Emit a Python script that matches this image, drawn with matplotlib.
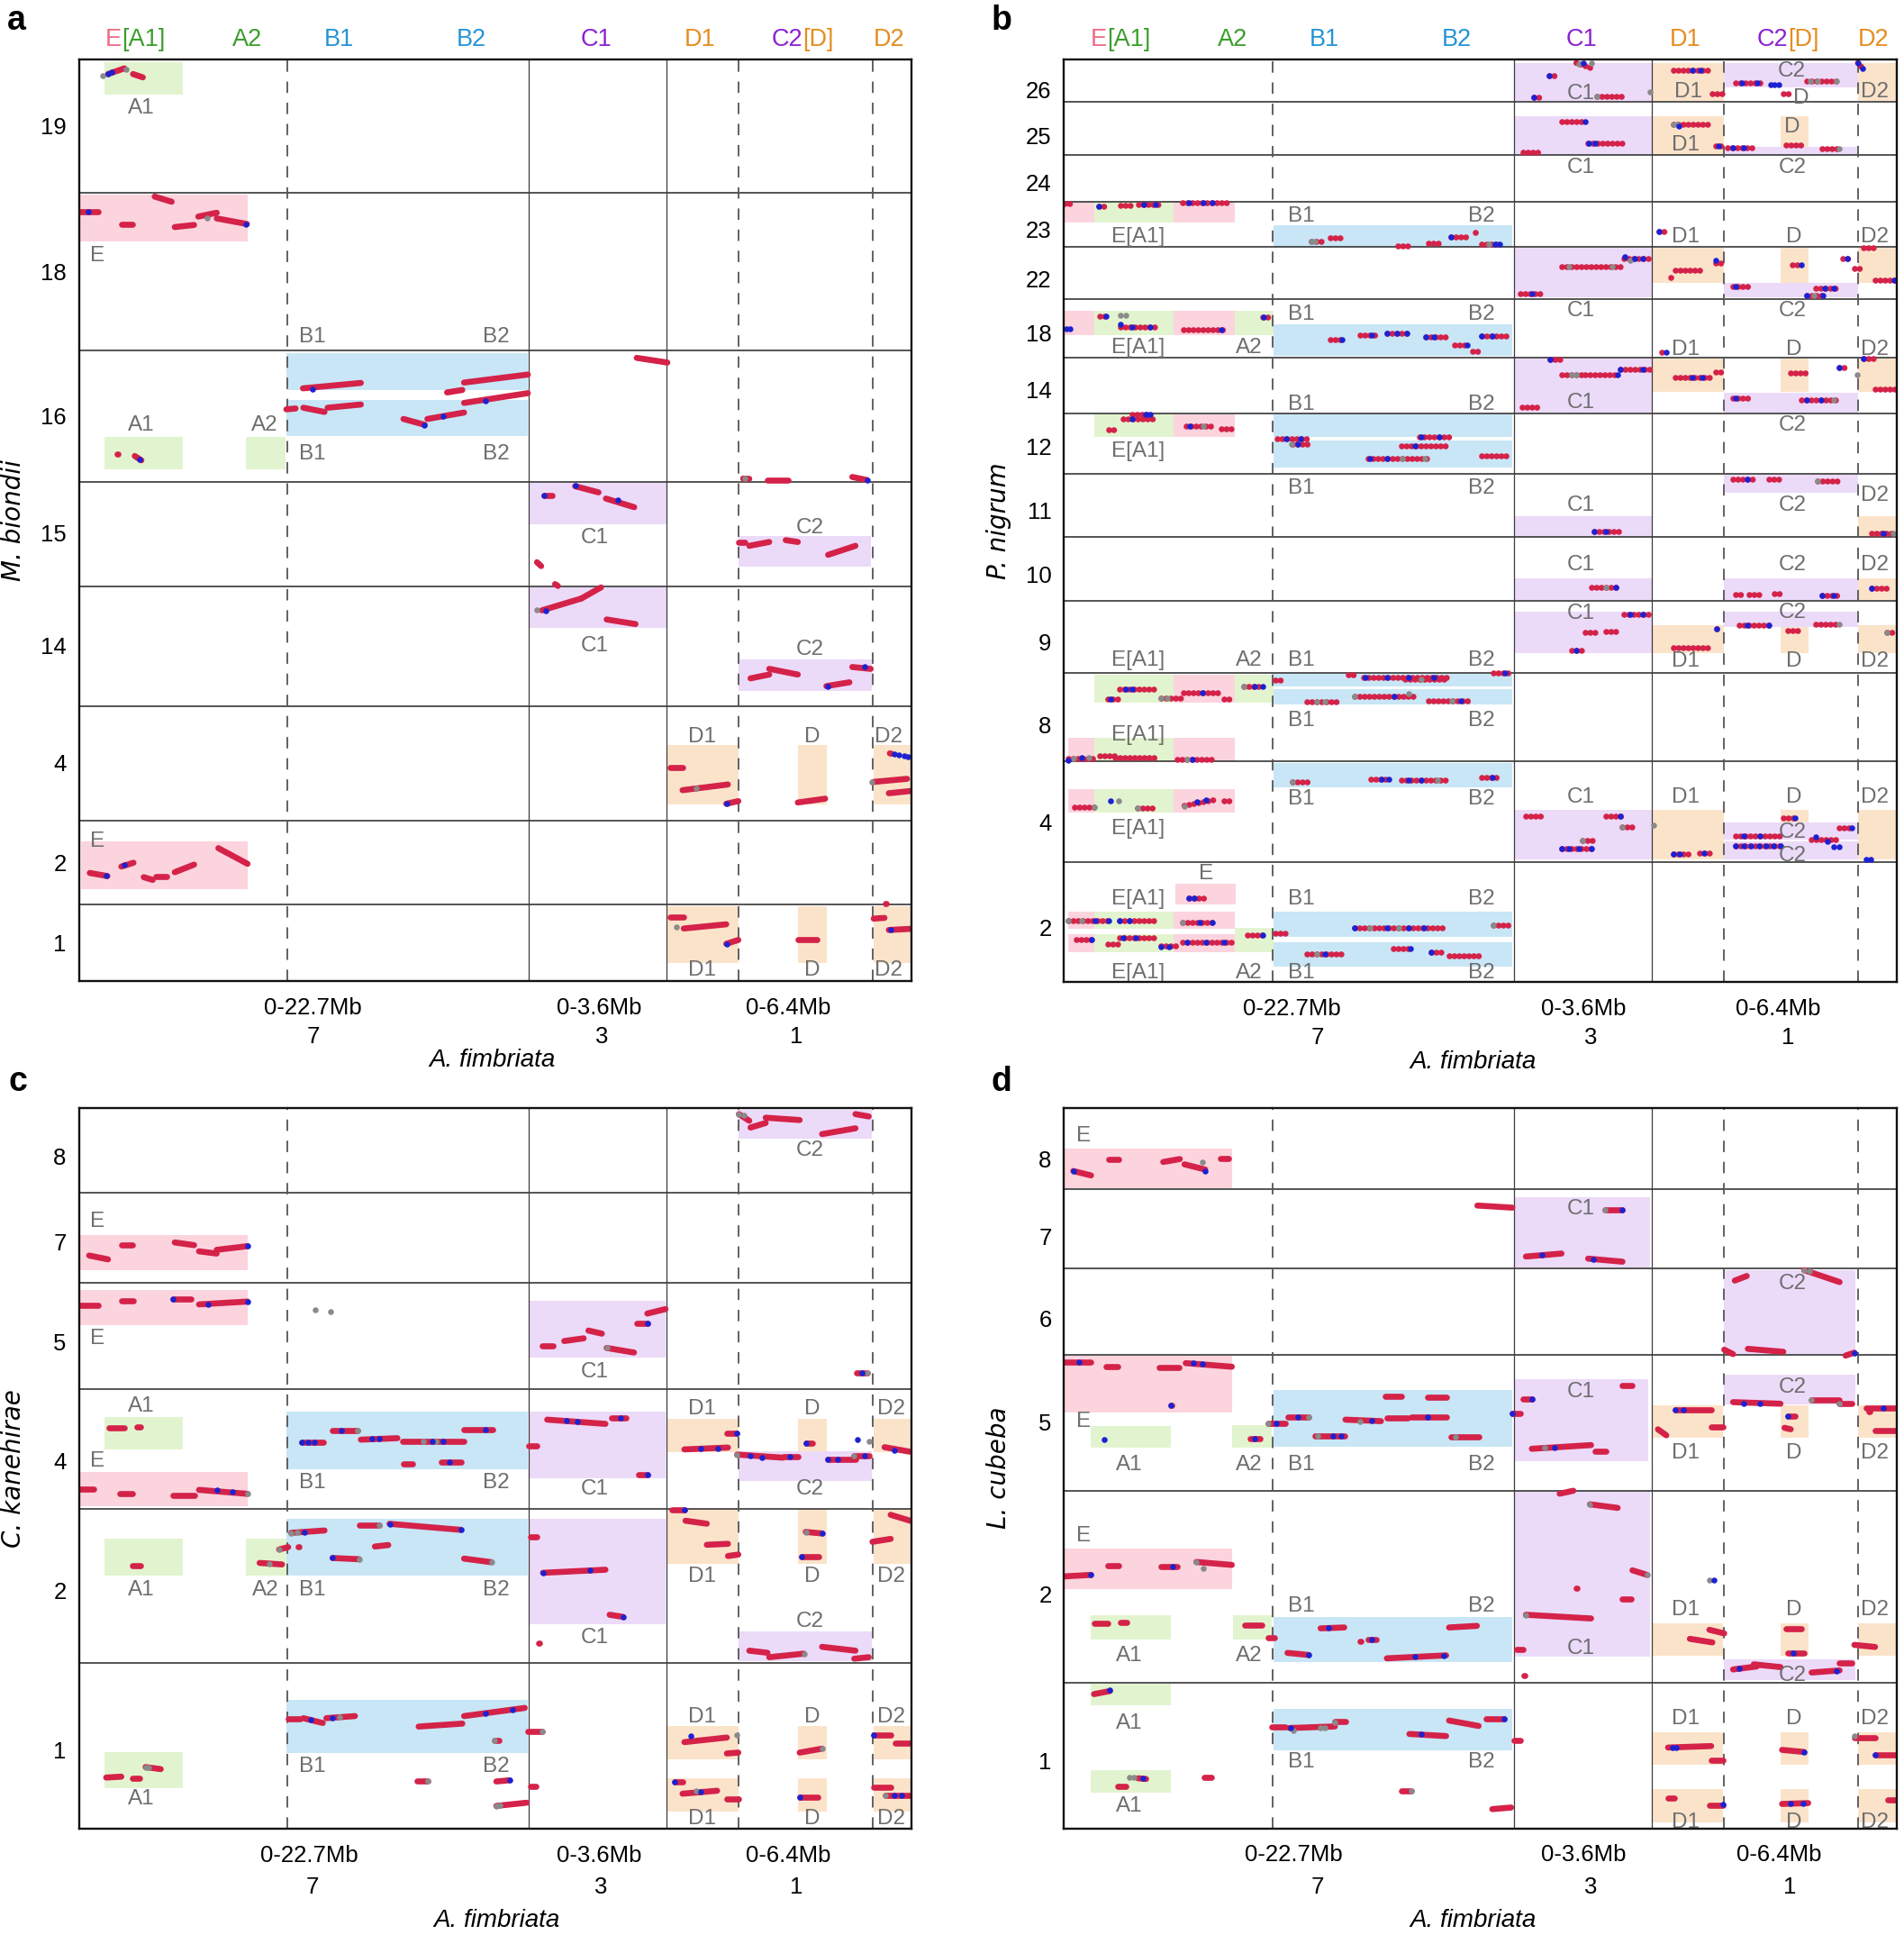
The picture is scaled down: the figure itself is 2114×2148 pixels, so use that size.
import matplotlib
matplotlib.use("Agg")
import matplotlib.pyplot as plt
import matplotlib.transforms as mtransforms
import matplotlib.font_manager as fm
from matplotlib.collections import LineCollection
from matplotlib.patches import Rectangle

# ---------------------------------------------------------------- shared data
XLIM = (0, 676)
CHROM_SOLID = [365.5, 477.5]
CHROM_DASHED = [169, 536, 644.5]
TOP_LABEL_X = [46, 136.5, 211.5, 318.5, 420, 504.5, 587.5, 657.5]
TOP_LABEL_PARTS = [[("E", "E"), ("[A1]", "A")], [("A2", "A")], [("B1", "B")], [("B2", "B")],
                   [("C1", "C")], [("D1", "D")], [("C2", "C"), ("[D]", "D")], [("D2", "D")]]
BOTTOM_RANGE = ["0-22.7Mb", "0-3.6Mb", "0-6.4Mb"]
BOTTOM_CHROM = ["7", "3", "1"]
XSPECIES = "A. fimbriata"

# ---------------------------------------------------------------- panel a : M. biondii
A_NAME = "M. biondii"
A_YLIM = (795, 48.5)
A_ROWS = [156, 284, 390.5, 475, 572, 665, 733]
A_TICKS = [102, 220, 337, 432, 523, 618, 699, 764]
A_TICKLABELS = ["19", "18", "16", "15", "14", "4", "2", "1"]
A_RANGE_X = [189.7, 422.7, 576.4]
A_CHROM_X = [190.7, 424.7, 582.3]
A_SPECIES_X = 336
A_BLOCKS = [
    (20.7, 84.8, 50.4, 76.5, "A"), (1, 137, 158, 196, "E"),
    (168.5, 364.6, 286, 316, "B"), (168.5, 364.6, 324, 353, "B"),
    (20.7, 84.8, 354, 380, "A"), (135.5, 167.5, 354, 380, "A"),
    (366, 477, 391, 425, "C"), (535.5, 643, 434, 459.5, "C"),
    (366, 477, 476, 508.7, "C"), (535.5, 644, 534.3, 560, "C"),
    (478, 535.5, 604, 652, "D"), (583.8, 607, 604, 652, "D"), (645.4, 676, 604, 652, "D"),
    (1.5, 137, 682, 720.7, "E"),
    (478, 535.5, 734, 780.7, "D"), (583.8, 607, 734, 780.7, "D"), (645.4, 676, 734, 780.7, "D"),
]
A_LABELS = [
    ("A1", 51, 87.5), ("E", 15, 207.6), ("B1", 189.7, 273), ("B2", 339, 273),
    ("A1", 51, 344.7), ("A2", 151, 344.7), ("B1", 189.7, 368), ("B2", 339, 368),
    ("C1", 418.8, 435.8), ("C2", 593.6, 427.5), ("C1", 418.8, 523.6), ("C2", 593.6, 526.6),
    ("D1", 506.4, 596.8), ("D", 595.4, 596.8), ("D2", 657.7, 596.8),
    ("E", 14.8, 682), ("D1", 506.4, 786), ("D", 595.4, 786), ("D2", 657.7, 786),
]
A_SEGS = [
    (23.7, 60, 37, 55.4), (44, 60, 52, 62.7),
    (1, 171.6, 16, 171.6), (34.5, 182, 43.4, 182), (61.6, 159.3, 75.4, 163.5),
    (77.9, 184, 93.6, 182.3), (97, 175.5, 112, 172.4), (112, 177, 136.5, 181.5),
    (182, 314.7, 229, 310.3), (299, 318, 311.4, 316), (312.8, 310, 364.6, 303.5),
    (168.5, 331.7, 176, 331), (182.3, 330.4, 199.5, 333.8), (202, 330.4, 229, 327.8),
    (263.6, 339.5, 280.8, 344.2), (283, 339.5, 312.8, 334.3), (312.8, 326.5, 364.6, 318.6),
    (453, 290, 477.9, 293.8), (31, 367.7, 31.5, 367.7), (45.4, 369.5, 50.8, 373),
    (162.6, 361, 163, 361), (539.4, 387.8, 544.4, 388), (559, 389, 576, 389), (628, 386.5, 640, 389),
    (377.9, 401.7, 384.3, 401.7), (396.6, 391, 397, 391), (403, 394, 422, 399), (428, 404, 451, 411),
    (536, 439.2, 541, 439.2), (544.4, 442.3, 560.6, 439.2), (574, 437.7, 583.8, 439.2),
    (608.4, 449.6, 630.6, 442.3), (372, 455.6, 375.4, 458.7), (386.7, 473.3, 389, 474.8),
    (376, 494.6, 408, 485), (408, 485, 424, 476), (428.6, 502, 452, 505.7),
    (545.4, 549.7, 560.6, 546.6), (560.6, 542, 583.8, 546.6), (607, 556, 625.7, 552.9), (628, 540.5, 643, 542),
    (368, 628.8, 368.5, 628.8), (480.3, 621.9, 490.2, 621.9), (490.2, 640.3, 527, 635.7),
    (525.7, 651.3, 535.5, 649.2), (583.8, 650.3, 606, 647.2), (645.4, 633.6, 672.5, 631.1),
    (657.7, 642.8, 675, 641), (658.5, 610.5, 660, 610.8),
    (8.9, 707.4, 23.2, 709.9), (34.5, 702.2, 44.4, 699.1), (52.7, 710.8, 60, 713),
    (62.6, 710, 71.5, 710), (77.9, 706.8, 93.6, 700.6), (113.3, 687.3, 137, 700),
    (368, 754.4, 368.5, 754.4), (480.3, 743.2, 491.2, 743.2), (491.2, 752.4, 525.7, 749),
    (525.7, 764.8, 535.5, 761.7), (583.8, 761.7, 599.5, 761.7), (645.4, 744.4, 654.2, 743.8),
    (655.2, 731.9, 655.5, 731.9), (657.7, 753.6, 675, 752.7),
]
A_BLUE = [(24, 60), (27, 58.5), (8, 171.6), (136, 181.5), (189.7, 315), (280.8, 344.2), (295.6, 337),
          (330, 325), (49.3, 372), (377.9, 401.7), (403, 393.5), (437.5, 405.5), (640.4, 389),
          (379.3, 494.6), (608.4, 556), (638, 540.5), (526, 651.3), (526, 764.8), (659, 753.6),
          (22.2, 709.9), (37, 701), (662, 611.2), (666, 612), (670, 612.8), (673, 613.2)]
A_GREY = [(19.7, 61.4), (38.5, 56), (104.5, 177), (541, 387.8), (372, 494), (644, 633.6),
          (485.3, 750.9), (501.5, 639)]

# ---------------------------------------------------------------- panel b : P. nigrum
B_NAME = "P. nigrum"
B_YLIM = (795.5, 48.5)
B_ROWS = [82.3, 125.4, 163.7, 200.3, 242, 290, 335, 384, 435, 487.2, 545.1, 617.1, 698.3]
B_TICKS = [72.6, 109.7, 148, 186, 226, 269.5, 316, 361.7, 413.4, 465.6, 520.2, 587.3, 666.3, 751.5]
B_TICKLABELS = ["26", "25", "24", "23", "22", "18", "14", "12", "11", "10", "9", "8", "4", "2"]
B_RANGE_X = [185, 422, 580]
B_CHROM_X = [206, 428, 588]
B_SPECIES_X = 332
B_BLOCKS = [
    (365.5, 477, 51, 81.5, "C"), (477, 536, 51, 81.5, "D"), (536, 644.6, 51, 70.5, "C"), (644.6, 675.3, 51, 81.5, "D"),
    (365.5, 477, 94, 124.8, "C"), (477, 536, 94, 124.8, "D"), (581.6, 604.2, 94, 118.8, "D"), (536, 644.6, 118.8, 124.8, "C"),
    (0.3, 24.3, 163.8, 180.2, "E"), (24.3, 89.2, 163.8, 180.2, "A"), (89.2, 138.6, 163.8, 180.2, "E"),
    (170, 364, 182.8, 199.8, "B"),
    (365.5, 477, 201, 240.8, "C"), (477, 536, 201, 229, "D"), (581.6, 604.2, 201, 229, "D"),
    (644.6, 675.3, 201, 229, "D"), (536, 644.6, 229, 240.8, "C"),
    (0.3, 24.3, 251.5, 271.6, "E"), (24.3, 89.2, 251.5, 271.6, "A"), (89.2, 138.6, 251.5, 271.6, "E"),
    (138.6, 169.9, 251.5, 271.6, "A"), (170, 364, 262.5, 288.6, "B"),
    (365.5, 477, 290.4, 334.3, "C"), (477, 536, 290.4, 317.3, "D"), (581.6, 604.2, 290.4, 317.3, "D"),
    (644.6, 675.3, 290.4, 317.3, "D"), (536, 644.6, 318, 334.3, "C"),
    (24.3, 89.2, 335.6, 353.9, "A"), (89.2, 138.6, 335.6, 353.9, "E"),
    (170, 364, 335.6, 354.4, "B"), (170, 364, 357.3, 379.2, "B"),
    (536, 644.6, 384.6, 399.3, "C"), (365.5, 477, 418, 435, "C"), (644.6, 675.3, 418, 435, "D"),
    (365.5, 477, 468.8, 486.4, "C"), (536, 644.6, 468.8, 486.4, "C"), (644.6, 675.3, 468.8, 486.4, "D"),
    (365.5, 477, 495.4, 529, "C"), (477, 536, 506.7, 529, "D"), (536, 644.6, 495.4, 508, "C"),
    (581.6, 604.2, 508, 529, "D"), (644.6, 675.3, 506.7, 529, "D"),
    (24.3, 89.2, 546.8, 569.5, "A"), (89.2, 138.6, 546.8, 569.5, "E"), (138.6, 169.9, 546.8, 569.5, "A"),
    (170, 364, 546, 556, "B"), (170, 364, 558.7, 571.1, "B"),
    (3.6, 24.3, 598.2, 617, "E"), (24.3, 89.2, 598.2, 617, "A"), (89.2, 138.6, 598.2, 617, "E"),
    (170, 364, 618.2, 638, "B"),
    (3.6, 24.3, 639.8, 658.8, "E"), (24.3, 89.2, 639.8, 658.8, "A"), (89.2, 138.6, 639.8, 658.8, "E"),
    (365.5, 477, 656.1, 696.1, "C"), (477, 536, 656.1, 696.1, "D"), (581.6, 604.2, 656.1, 666.4, "D"),
    (536, 644.6, 666.4, 680, "C"), (536, 644.6, 681.5, 696.1, "C"), (644.6, 675.3, 656.1, 696.1, "D"),
    (90.1, 139.6, 716.4, 732.7, "E"),
    (3.6, 24.3, 738.9, 752.9, "E"), (24.3, 89.2, 738.9, 752.9, "A"), (89.2, 138.6, 738.9, 752.9, "E"),
    (3.6, 24.3, 757, 771.9, "E"), (24.3, 89.2, 757, 771.9, "A"), (89.2, 138.6, 757, 771.9, "E"),
    (138.6, 169.9, 751.6, 771.9, "A"),
    (170, 364, 738.9, 758.9, "B"), (170, 364, 763.2, 783.2, "B"),
]
B_LABELS = [
    ("C1", 419.8, 75.7), ("D1", 507.2, 74.4), ("C2", 591, 57.5), ("D", 598.5, 79.7), ("D2", 658.5, 74.4),
    ("D", 591.3, 103.2), ("D1", 504.8, 117.5), ("C1", 419.8, 135.8), ("C2", 591.3, 135.8),
    ("E[A1]", 60.3, 192), ("B1", 192.5, 175), ("B2", 339, 175), ("D1", 504.8, 192), ("D", 592.7, 192), ("D2", 658.5, 192),
    ("C1", 419.8, 252), ("C2", 591.3, 252),
    ("E[A1]", 60.3, 282), ("A2", 150.2, 282), ("B1", 192.5, 254.6), ("B2", 339, 254.6),
    ("D1", 504.8, 283.4), ("D", 592.7, 283.4), ("D2", 658.5, 283.4),
    ("C1", 419.8, 326.5), ("B1", 192.5, 327.8), ("B2", 339, 327.8), ("C2", 591.3, 344.7), ("E[A1]", 60.3, 365.6),
    ("B1", 192.5, 395.7), ("B2", 339, 395.7), ("D2", 658.5, 401.2), ("C1", 419.8, 409.3), ("C2", 591.3, 409.3),
    ("C1", 419.8, 458), ("C2", 591.3, 458), ("D2", 658.5, 458),
    ("C1", 419.8, 497.3), ("C2", 591.3, 496.5), ("D1", 504.8, 536), ("D", 592.7, 536), ("D2", 658.5, 536),
    ("E[A1]", 60.3, 535.1), ("A2", 150.2, 535.1), ("B1", 192.5, 535.1), ("B2", 339, 535.1),
    ("B1", 192.5, 583.8), ("B2", 339, 583.8), ("E[A1]", 60.3, 596),
    ("B1", 192.5, 647.4), ("B2", 339, 647.4), ("E[A1]", 60.3, 671.8), ("C1", 419.8, 646.1),
    ("D1", 504.8, 646.1), ("D", 592.7, 646.1), ("D2", 658.5, 646.1), ("C2", 591.3, 674.5), ("C2", 591.3, 693.4),
    ("E", 115.6, 708.3), ("E[A1]", 60.3, 728.6), ("B1", 192.5, 728.6), ("B2", 339, 728.6),
    ("E[A1]", 60.3, 788.1), ("A2", 150.2, 788.1), ("B1", 192.5, 788.6), ("B2", 339, 788.6),
]
B_SEGS = [
    (416, 51, 430, 56), (394, 61.4, 401.5, 61.4), (381.3, 78.9, 387, 78.9), (432.7, 77.8, 454.3, 77.8),
    (495, 57, 524, 57), (526.4, 75.7, 536, 75.7), (545.6, 67.4, 567.2, 67.4), (584, 75.7, 591.3, 75.7),
    (603.3, 65.8, 629.7, 65.8), (644.6, 51, 649, 56),
    (403.9, 98.5, 423, 98.5), (425.5, 116.2, 454.3, 116.2), (372.7, 123.3, 388, 123.3),
    (495, 100.5, 524, 100.5), (528.8, 118.3, 536, 118.3), (538.4, 120, 560, 120),
    (586.5, 117.5, 598.5, 117.5), (615.3, 120.7, 629.7, 120.7),
    (0.3, 165, 6.5, 165), (28, 167, 35.4, 167), (46, 166.5, 55.5, 166.5), (60.3, 166, 77.2, 166),
    (96.4, 164.5, 132.4, 164.5), (200.6, 195.4, 209.3, 195.4), (216.5, 192.7, 224.7, 192.7),
    (270.8, 199, 282.3, 199), (295.8, 197.2, 307.8, 197.2), (314, 192, 328.5, 192),
    (334.2, 188.6, 334.5, 188.6), (339, 197.7, 353.4, 197.7), (483, 187.5, 489, 187.5),
    (370.3, 237.7, 388, 237.7), (403.9, 216.2, 452, 216.2), (454.3, 209.7, 477, 209.7),
    (492.8, 225, 493.2, 225), (496.2, 218.9, 517.7, 218.9), (528.8, 212.8, 536, 212.8),
    (591.3, 214.7, 598.5, 214.7), (543, 232.4, 555.2, 232.4), (603.3, 239.7, 617.7, 239.7),
    (610.5, 233.7, 629.7, 233.7), (632, 209.4, 638, 209.4), (641.7, 217.3, 649, 217.3),
    (649, 201, 658.5, 201), (658.5, 227.2, 674.4, 227.2),
    (29, 256, 36.3, 256), (46, 265, 74.8, 265), (97.3, 267, 132.4, 267), (161.2, 256.7, 166, 256.7),
    (216.5, 275.5, 226, 275.5), (240.5, 271.6, 255, 271.6), (262.1, 270.3, 281.4, 270.3),
    (293.4, 272.9, 310.2, 272.9), (317.4, 279.4, 327, 279.4), (331.8, 284.7, 339, 284.7),
    (339, 272.1, 360.6, 272.1), (485.5, 285.5, 489, 285.5),
    (394.3, 291.2, 403.9, 291.2), (403.9, 303.7, 420.7, 303.7), (423, 303.5, 449.5, 303.5),
    (452, 299, 477, 299), (371.7, 329.6, 387, 329.6), (491.8, 313.4, 492.2, 313.4),
    (496.2, 306, 524, 306), (528.8, 301.6, 535, 301.6), (589.8, 302.2, 602.3, 302.2),
    (543, 323, 557.4, 323), (598.5, 323.8, 629.7, 323.8), (629.7, 297.7, 637, 297.7),
    (649, 290.4, 661, 290.4), (658.5, 315.5, 675.3, 315.5),
    (36.3, 348, 43.5, 348), (48.3, 339.5, 72.3, 339.5), (55.5, 335.6, 70, 335.6),
    (98.8, 345.3, 120.4, 345.3), (127.6, 347.4, 137.2, 347.4), (173.2, 355.2, 199.7, 355.2),
    (185.3, 360, 199.7, 360), (288.6, 353.9, 312.6, 353.9), (274, 361.2, 310.2, 361.2),
    (246.8, 371.4, 298.2, 371.4), (339, 369.6, 360.6, 369.6),
    (543, 388.5, 562.3, 388.5), (572.1, 388.5, 584, 388.5), (612, 389.5, 629.7, 389.5),
    (430.3, 430.4, 452, 430.4), (656, 431.8, 675.3, 431.8),
    (428, 475.6, 452, 475.6), (545.6, 481.8, 549.4, 481.8), (556.2, 481.8, 567.2, 481.8),
    (576.8, 481, 584, 481), (615.3, 482.3, 629.7, 482.3), (656, 476.4, 669.6, 476.4),
    (454.3, 497.8, 477, 497.8), (423, 512.7, 432.7, 512.7), (440, 511.6, 452, 511.6),
    (396.7, 519.4, 397, 519.4), (412, 527.3, 423, 527.3), (495, 524.8, 526.4, 524.8),
    (530.2, 509.4, 531, 509.4), (548, 506.7, 574.4, 506.7), (610.5, 505.9, 629.7, 505.9),
    (588, 510.8, 598.5, 510.8), (668.2, 512.1, 674.4, 512.1),
    (35.4, 566.2, 45, 566.2), (45, 558.1, 74.8, 558.1), (78.6, 565.7, 94.9, 565.7),
    (97.3, 561.4, 127.6, 561.4), (130, 566.8, 137.2, 566.8), (145.9, 556, 161.2, 556),
    (171.8, 551.4, 178, 551.4), (231, 546.5, 238.1, 546.5), (243, 548.7, 310.2, 548.7),
    (276.5, 550.6, 310.2, 550.6), (348.6, 545.1, 364, 545.1), (197.3, 568.4, 223.7, 568.4),
    (235.7, 564.4, 283.7, 564.4), (295.8, 567.6, 329.4, 567.6),
    (3.6, 615, 26.7, 615), (29.1, 612.8, 41.1, 612.8), (41.1, 613.6, 74.8, 613.6), (91.6, 615.5, 122.8, 615.5),
    (185.3, 633.3, 198.7, 633.3), (248.7, 631.2, 264.5, 631.2), (274.1, 632, 310.2, 632),
    (339, 629.8, 353.4, 629.8), (8.4, 654.2, 24.3, 654.2), (59.4, 655, 73.8, 655),
    (97.8, 653, 123.8, 648), (130, 649.3, 137.2, 649.3), (375, 661, 388, 661),
    (440, 661.5, 454.3, 661.5), (453.4, 670.4, 463, 670.4), (420.7, 681.2, 430.3, 681.2),
    (403.9, 688, 430.3, 688), (528.8, 663.7, 529.2, 663.7), (495, 692, 507.2, 692),
    (515.8, 691.2, 525.4, 691.2), (584, 662.8, 593.7, 662.8), (545.6, 677.7, 581.6, 677.7),
    (545.6, 685.8, 581.6, 685.8), (607, 680.4, 627.3, 680.4), (629.7, 671.2, 639.3, 671.2),
    (101.2, 727.8, 115.6, 727.8), (3.6, 746.2, 36.3, 746.2), (45, 746.2, 75.7, 746.2),
    (96.4, 747.5, 122.8, 747.5), (9.9, 761.6, 24.3, 761.6), (35.4, 765.1, 43.5, 765.1),
    (45, 759.7, 73.8, 759.7), (78.6, 766.5, 94, 766.5), (96.4, 763.8, 137.2, 763.8),
    (149.2, 757.8, 161.2, 757.8), (171.8, 756.5, 180.4, 756.5), (235.7, 751.6, 310.2, 751.6),
    (348.6, 749.7, 364, 749.7), (197.3, 773.2, 228.5, 773.2), (267, 768.6, 281.4, 768.6),
    (298.2, 771.3, 307.8, 771.3), (312.6, 774.6, 336.6, 774.6),
]
B_BLUE = [
    (422, 51), (394, 61.4), (381.3, 78.9), (510, 57), (517, 57), (550, 67.4), (563, 67.4),
    (573.5, 68.4), (577, 68.4), (580.2, 68.4), (645, 51), (648, 55.5),
    (423, 98.5), (426, 116.2), (431, 116.2), (499, 102), (531, 118.3), (543, 120), (552, 120),
    (28, 167), (65, 166), (74, 166), (101, 164.5), (113, 164.5), (120, 164.5), (314, 192),
    (350, 197.7), (353.4, 197.7), (483, 187.5),
    (380, 237.7), (455, 208), (463, 209.7), (470, 209.7), (528.8, 211), (598.5, 214.7), (545, 232.4),
    (603.3, 239.7), (616, 239.7), (618, 233.7), (625, 233.7), (636, 209.4), (674, 227.2),
    (1.7, 266.4), (5, 266.4), (34, 256), (46, 263), (55, 265), (70, 265), (128, 267), (162, 256.7),
    (226, 275.5), (250, 271.6), (262.1, 270.3), (270, 270.3), (278, 270.3), (293.4, 272.9), (300, 272.9),
    (327, 279.4), (339, 272.1), (348, 272.1), (489, 285.5),
    (394.3, 291.2), (449.5, 303.5), (452, 299), (470, 299), (510, 306), (518, 306), (545, 323),
    (603, 323.8), (615, 323.8), (629.7, 297.7), (649, 290.4),
    (55, 339.5), (66, 335.6), (70, 335.6), (102, 345.3), (180, 355.2), (192, 355.2), (190, 360),
    (290, 353.9), (305, 353.9), (285, 361.2), (248, 371.4), (262, 371.4),
    (555, 388.5), (430.3, 430.4), (440, 430.4), (665, 431.8),
    (448, 475.6), (615.3, 482.3), (625, 482.3), (656, 476.4),
    (460, 497.8), (470, 497.8), (416, 527.3), (530.2, 509.4), (555, 506.7), (572, 506.7),
    (38, 566.2), (50, 558.1), (55, 558.1), (112, 561.4), (155, 556), (161, 556),
    (245, 548.7), (262, 548.7), (280, 548.7), (300, 548.7), (358, 545.1), (268, 564.4), (322, 567.6),
    (3.6, 616), (14, 614), (104, 615.5),
    (258, 631.2), (264, 631.2), (280, 632), (290, 632), (348, 629.8), (38, 648.8), (108, 650), (115, 648),
    (452, 661.5), (403.9, 688), (410, 688), (418, 688), (428, 688), (495, 692), (500, 692), (520, 691.2),
    (593.7, 662.8), (552, 677.7), (565, 677.7), (545.6, 685.8), (552, 685.8), (558, 685.8),
    (564, 685.8), (570, 685.8), (576, 685.8), (581.6, 685.8), (610, 678), (620, 682),
    (639.3, 671.2), (625, 686), (629.7, 686), (651.3, 696.7), (655, 696.7),
    (101.2, 727.8), (106, 727.8), (25, 746.2), (36, 746.2), (45, 746.2), (53, 746.2), (110, 747.5),
    (120, 747.5), (22, 761.6), (48, 759.7), (58, 759.7), (78.6, 767), (85, 767), (100, 763.8),
    (115, 763.8), (130, 763.8), (161, 757.8), (236, 751.6), (262, 751.6), (280, 751.6), (292, 751.6),
    (212, 773.2), (281, 768.6), (298.2, 771.3),
]
B_GREY = [
    (418, 52), (428, 51), (432.7, 77.8), (476, 74.4), (606, 65.8), (612, 65.8), (627, 65.8),
    (495, 100.5), (498, 100.5), (629.7, 120.7), (200.6, 195.4), (204, 195.4), (345, 197.7),
    (410, 216.2), (445, 216.2), (460, 211), (609, 239.7), (46, 255.5), (49.8, 255.5),
    (412, 303.7), (416, 303.7), (625, 323.8), (644, 304), (113, 345.3), (185, 360), (275, 371.4),
    (293, 371.4), (612, 389.5), (673, 431.8), (440, 475.6), (629.7, 505.9), (668.2, 512.1),
    (78.6, 565.7), (84, 565.7), (145.9, 556), (290, 550.6), (205, 568.4), (212, 568.4), (236, 564.4),
    (280, 562), (315, 567.6), (8, 615), (20, 614), (100, 615.5), (185.3, 633.3), (303, 632),
    (24.3, 654.2), (44, 648.8), (59.4, 655), (98, 653), (453.4, 670.4), (420.7, 681.2), (478.4, 669),
    (3.6, 746.2), (14, 746.2), (96.4, 747.5), (248, 751.6), (272, 751.6), (348.6, 749.7), (205, 773.2),
]

# ---------------------------------------------------------------- panel c : C. kanehirae
C_NAME = "C. kanehirae"
C_YLIM = (1482, 897.8)
C_ROWS = [966.7, 1039.4, 1125.8, 1222.6, 1347.2]
C_TICKS = [936.7, 1006, 1087.6, 1183.7, 1289, 1418]
C_TICKLABELS = ["8", "7", "5", "4", "2", "1"]
C_RANGE_X = [187, 422.7, 576.4]
C_CHROM_X = [189.7, 423.7, 582.3]
C_SPECIES_X = 339
C_BLOCKS = [
    (535.5, 643.9, 899.7, 922.6, "C"),
    (0, 137, 1000.6, 1029, "E"),
    (0, 137, 1045.4, 1073.6, "E"), (365.6, 476.4, 1053.9, 1100.3, "C"),
    (20.7, 84.8, 1148.4, 1174.4, "A"), (0, 137, 1193, 1220.8, "E"), (168.5, 364.6, 1144.2, 1190.9, "B"),
    (365.6, 476.4, 1144.2, 1198.2, "C"), (477.9, 535.5, 1150, 1177, "D"), (583.8, 607, 1150, 1177, "D"),
    (645.4, 676, 1150, 1177, "D"), (535.5, 643.9, 1176.3, 1199.9, "C"),
    (20.7, 84.8, 1247, 1276.9, "A"), (135.5, 168.5, 1247, 1276.9, "A"), (168.5, 364.6, 1231.1, 1276.9, "B"),
    (365.6, 476.4, 1231.1, 1315.9, "C"), (477.9, 535.5, 1222.6, 1267.1, "D"), (583.8, 607, 1222.6, 1267.1, "D"),
    (645.4, 676, 1222.6, 1267.1, "D"), (535.5, 643.9, 1322.3, 1345.9, "C"),
    (20.7, 84.8, 1419.7, 1448.9, "A"), (168.5, 364.6, 1377.6, 1420.2, "B"),
    (477.9, 535.5, 1398.3, 1425.8, "D"), (583.8, 607, 1398.3, 1425.8, "D"), (645.4, 676, 1398.3, 1425.8, "D"),
    (477.9, 535.5, 1440.9, 1468.2, "D"), (583.8, 607, 1440.9, 1468.2, "D"), (645.4, 676, 1440.9, 1468.2, "D"),
]
C_LABELS = [
    ("C2", 593.6, 932.3), ("E", 14.8, 990), ("E", 14.8, 1085), ("C1", 418.8, 1111.7), ("A1", 50.8, 1139.8),
    ("E", 14.8, 1183.7), ("B1", 189.7, 1201.4), ("B2", 339, 1201.4), ("C1", 418.8, 1206.3),
    ("D1", 506.4, 1141.6), ("D", 595.4, 1141.6), ("D2", 660, 1141.6), ("C2", 593.6, 1206.3),
    ("A1", 50.8, 1288.3), ("A2", 151.3, 1288.3), ("B1", 189.7, 1288.3), ("B2", 339, 1288.3),
    ("C1", 418.8, 1327.3), ("D1", 506.4, 1277.4), ("D", 595.4, 1277.4), ("D2", 660, 1277.4), ("C2", 593.6, 1314),
    ("D1", 506.4, 1391.4), ("D", 595.4, 1391.4), ("D2", 660, 1391.4), ("B1", 189.7, 1431.2), ("B2", 339, 1431.2),
    ("A1", 50.8, 1458), ("D1", 506.4, 1473.8), ("D", 595.4, 1473.8), ("D2", 660, 1473.8),
]
C_SEGS = [
    (536, 902.8, 544.4, 908.2), (545.4, 913.7, 557.7, 910), (557.7, 905.7, 585.3, 907.6),
    (603.5, 919, 630.6, 914.3), (630.6, 902.8, 641.4, 904.7),
    (8.4, 1017.4, 23.7, 1020.5), (34.5, 1009, 43.4, 1009), (77.9, 1006.8, 93.6, 1009),
    (97.6, 1014, 111.9, 1015.8), (111.9, 1012.8, 137, 1009.8),
    (0, 1057.8, 15.8, 1057.8), (34.5, 1053.9, 44.4, 1053.9), (76.4, 1052.9, 91.2, 1052.9),
    (97.6, 1057, 137, 1054.7),
    (375.9, 1090.4, 385.3, 1090.4), (394.1, 1086.7, 409.9, 1084.5), (413.8, 1078.2, 424.7, 1080.7),
    (428.6, 1092.3, 450.8, 1096), (453.2, 1072.4, 461.6, 1072.4), (461.6, 1064.4, 476.4, 1060.8),
    (631.6, 1112.2, 640.4, 1112.2),
    (24.7, 1156.9, 37, 1156.9), (46.8, 1156.2, 50.3, 1156.2),
    (0, 1206.8, 12.4, 1206.8), (33.5, 1210.5, 43.4, 1210.5), (76.4, 1211.7, 93.6, 1211.7),
    (97.6, 1207.3, 137, 1210.5),
    (181.3, 1169, 198.6, 1169), (206, 1159.4, 226.6, 1159.4), (229, 1166.6, 258.7, 1165.4),
    (262.6, 1167.8, 312.8, 1167.8), (263.6, 1186, 271, 1186), (294.6, 1184.8, 310.4, 1184.8),
    (312.8, 1158.5, 336, 1158.5), (365.6, 1171.4, 372, 1171.4), (380.3, 1150.4, 427.6, 1153.8),
    (432.5, 1149, 444.4, 1149), (454.2, 1195.3, 462, 1195.3), (491.7, 1174.5, 527.1, 1173),
    (526.2, 1161.6, 534.5, 1161.6), (588.7, 1160.4, 589, 1160.4), (590.2, 1169.6, 596, 1169.6),
    (534.5, 1178.7, 571.5, 1181.2), (572.5, 1180.4, 583.8, 1180.4), (608.4, 1182.3, 630.6, 1182.3),
    (629.6, 1179.4, 641.4, 1179.4), (654.2, 1172.7, 675, 1176.4),
    (43.4, 1268.9, 50.3, 1268.9), (146.8, 1266.5, 165, 1267.7), (162.6, 1255.6, 170, 1253.7),
    (172.5, 1242.1, 199.5, 1240.2), (178.4, 1253.7, 178.8, 1253.7), (206, 1262.5, 227.6, 1263.5),
    (227.6, 1236, 243.9, 1236), (240.4, 1253.2, 251.3, 1252), (252.3, 1234.8, 310.4, 1239.7),
    (312.8, 1263, 335, 1265.9), (367, 1245.3, 372, 1245.3), (376.9, 1274.5, 427.6, 1272),
    (431, 1308.5, 441.9, 1310.2), (373.4, 1331.5, 373.8, 1331.5),
    (481.8, 1223.4, 491.7, 1223.4), (492.6, 1232.3, 509.9, 1234.7), (516.3, 1234.7, 516.7, 1234.7),
    (509.9, 1251.8, 527.1, 1251), (527.1, 1260.9, 535.5, 1259.7),
    (590.2, 1241.4, 603.5, 1242.6), (587.2, 1261.4, 601, 1261.4),
    (644.4, 1249.4, 659.2, 1247), (659.2, 1227.5, 675, 1232.3),
    (544.4, 1337.6, 559.2, 1339.3), (560.6, 1342.9, 588.7, 1340), (603.5, 1334.5, 630.6, 1337.6),
    (629.6, 1344.1, 641.4, 1342.9),
    (22.2, 1440.4, 34.5, 1439.7), (43.4, 1440.9, 49.3, 1440.9), (54.2, 1431.9, 66.5, 1433.6),
    (170, 1393, 179.8, 1393), (182.3, 1392.3, 198.1, 1396.2), (201, 1392.3, 224.2, 1390.6),
    (275.9, 1399.1, 311.4, 1396.7), (312.8, 1390.6, 362.1, 1384), (337.5, 1410, 341, 1410),
    (364.6, 1403.2, 375.9, 1403.2), (274.9, 1443.1, 283.3, 1443.1), (339, 1443.6, 349.8, 1442.6),
    (367, 1447.5, 371, 1447.5), (339, 1463.4, 363.6, 1460.8),
    (491.7, 1411.7, 526.2, 1408), (526.2, 1420.9, 535.5, 1420.2), (483.8, 1443.8, 490.2, 1443.8),
    (490.2, 1453.5, 518.3, 1451.1), (526.2, 1457.9, 535.5, 1457.9), (585.3, 1420.2, 603.5, 1417),
    (585.3, 1456.6, 600, 1456.6), (645.4, 1405.6, 659.2, 1405.6), (662.6, 1412.2, 675.9, 1412.2),
    (645.4, 1448.5, 659.2, 1448.5), (655.2, 1454.9, 675, 1454.9),
]
C_BLUE = [
    (137, 1009.8), (76.4, 1052.9), (105, 1057), (137, 1054.7), (461.6, 1072.4), (636, 1112.2),
    (112, 1207.5), (125, 1209), (181.3, 1169), (186, 1169), (191, 1169), (213, 1159.4),
    (238, 1166), (244, 1165.8), (287, 1167.8), (296, 1167.8), (301, 1184.8), (330, 1158.5),
    (396, 1151), (405, 1151.8), (440, 1149), (462, 1195.3), (505, 1174), (519, 1173.5),
    (534.5, 1161.6), (590.2, 1169.6), (545, 1180), (555, 1181), (577, 1180.4), (608.4, 1182.3),
    (616, 1182.3), (638, 1179.4), (632, 1166.6), (662, 1175),
    (183, 1241.5), (206, 1262.5), (253, 1234.8), (310.4, 1239.7), (376.9, 1274.5), (415, 1272.5),
    (441.9, 1310.2), (491.7, 1223.4), (603.5, 1242.6), (587.2, 1261.4),
    (188, 1393.5), (206, 1392), (330, 1388.3), (352, 1385.4), (349.8, 1442.6), (497, 1407),
    (483.8, 1443.8), (505, 1452), (585.3, 1456.6), (645.4, 1405.6), (662, 1454.9), (668, 1454.9),
]
C_GREY = [
    (536, 902.8), (540, 904), (192.2, 1061.3), (204.5, 1063.2), (428.6, 1092.3), (640.4, 1112.2),
    (137, 1210.5), (226.6, 1159.4), (280, 1167.8), (290, 1167.8), (534.5, 1178.7), (629.6, 1179.4),
    (641.4, 1168), (155, 1267), (162.6, 1255.6), (172.5, 1242.1), (177, 1242), (227.6, 1263.5),
    (243.9, 1236), (335, 1265.9), (590.2, 1241.4), (588.7, 1340),
    (54.2, 1431.9), (57, 1432.3), (212, 1391.5), (337.5, 1410), (375.9, 1403.2), (283.3, 1443.1),
    (339, 1463.4), (342, 1463), (534.5, 1405.6), (501, 1451), (603.5, 1417), (655.2, 1454.9),
]

# ---------------------------------------------------------------- panel d : L. cubeba
D_NAME = "L. cubeba"
D_YLIM = (1481.5, 897.8)
D_ROWS = [963.5, 1028, 1097.8, 1208, 1363.3]
D_TICKS = [939, 1002, 1068.3, 1152.1, 1292, 1427]
D_TICKLABELS = ["8", "7", "6", "5", "2", "1"]
D_RANGE_X = [186.7, 422.1, 580.2]
D_CHROM_X = [205.9, 428, 588.9]
D_SPECIES_X = 331.8
D_BLOCKS = [
    (0.3, 136.2, 930.6, 962.8, "E"),
    (365.4, 476, 970.3, 1027.2, "C"),
    (536, 642.7, 1029.2, 1097.3, "C"),
    (0.3, 136.2, 1098.5, 1144.8, "E"), (21.9, 86.8, 1155.7, 1173.2, "A"), (136.2, 168.4, 1154.5, 1172.8, "A"),
    (169.9, 364, 1126.5, 1172.3, "B"), (365.4, 474.5, 1117.3, 1183.7, "C"), (536, 642.7, 1114.3, 1138.2, "C"),
    (477, 535, 1138.7, 1165.4, "D"), (581.6, 604.2, 1138.7, 1165.4, "D"), (644.6, 676, 1138.7, 1165.4, "D"),
    (365.4, 476, 1208, 1342.4, "C"), (0.3, 136.2, 1255, 1287.6, "E"), (21.9, 86.8, 1308.5, 1328.5, "A"),
    (137.2, 168.4, 1308.5, 1328.5, "A"), (169.9, 364, 1310.2, 1346.7, "B"),
    (477, 535, 1315.1, 1341.9, "D"), (581.6, 604.2, 1315.1, 1341.9, "D"), (644.6, 676, 1315.1, 1341.9, "D"),
    (536, 642.7, 1344.3, 1361.3, "C"),
    (21.9, 86.8, 1364.5, 1381.5, "A"), (21.9, 86.8, 1434.3, 1452.6, "A"), (169.9, 364, 1385, 1418, "B"),
    (477, 535, 1403.4, 1430.2, "D"), (581.6, 604.2, 1403.4, 1430.2, "D"), (644.6, 676, 1403.4, 1430.2, "D"),
    (477, 535, 1449.7, 1476.9, "D"), (581.6, 604.2, 1449.7, 1476.9, "D"), (644.6, 676, 1449.7, 1476.9, "D"),
]
D_LABELS = [
    ("E", 15.6, 920.2), ("C1", 419.7, 979.3), ("C2", 591.3, 1040.1), ("C1", 419.7, 1127.7),
    ("C2", 591.3, 1124.1), ("E", 15.6, 1152.1), ("A1", 53.1, 1186.9), ("A2", 150.2, 1186.9),
    ("B1", 192.5, 1186.9), ("B2", 339, 1186.9), ("D1", 504.8, 1177.6), ("D", 592.7, 1177.6),
    ("D2", 658.5, 1177.6), ("E", 15.6, 1244.5), ("B1", 192.5, 1301.2), ("B2", 339, 1301.2),
    ("D1", 504.8, 1304.6), ("D", 592.7, 1304.6), ("D2", 658.5, 1304.6), ("C1", 419.7, 1335.8),
    ("A1", 53.1, 1341.9), ("A2", 150.2, 1341.9), ("C2", 591.3, 1357.7), ("A1", 53.1, 1396.6),
    ("D1", 504.8, 1393), ("D", 592.7, 1393), ("D2", 658.5, 1393), ("B1", 192.5, 1428.2),
    ("B2", 339, 1428.2), ("A1", 53.1, 1463.5), ("D1", 504.8, 1476.4), ("D", 592.7, 1476.4), ("D2", 658.5, 1476.4),
]
D_SEGS = [
    (7.5, 948.9, 21.9, 952.5), (36.3, 939.2, 44.5, 939.2), (80.5, 941.6, 94, 939.2),
    (97.8, 943.5, 114.6, 947.7), (126.6, 938.4, 133.4, 938.4),
    (335.6, 976.9, 364, 978.6), (439, 980.5, 452.9, 980.5), (375, 1018.2, 403.9, 1015.8),
    (425.5, 1019.9, 453.4, 1022.4),
    (544.6, 1037.7, 554.3, 1034), (600.9, 1029.2, 629.7, 1038.9), (536, 1093.7, 543.2, 1097.3),
    (555.2, 1093, 584, 1095.4), (628.3, 1090.5, 628.6, 1090.5), (634.5, 1098.5, 641.7, 1096.1),
    (0.3, 1103.4, 21.9, 1103.4), (33.9, 1107.5, 43.5, 1107.5), (77.1, 1108.3, 93, 1108.3),
    (98.8, 1104.6, 136.2, 1107.5), (86.8, 1138.7, 87.1, 1138.7), (32.5, 1166.7, 32.8, 1166.7),
    (150.7, 1166, 158.8, 1166), (166, 1153.3, 179.5, 1153.3), (181.9, 1148, 198.7, 1148),
    (203.5, 1163.7, 227.5, 1163.7), (228.5, 1150.4, 257.3, 1151.6), (262.1, 1149.2, 279, 1149.2),
    (282.3, 1148.4, 310.2, 1148.4), (260.7, 1131.4, 274.1, 1131.4), (294.8, 1132.1, 310.2, 1132.1),
    (314, 1164.2, 336.6, 1164.2), (364, 1145.5, 370.2, 1145.5), (372.6, 1133.3, 379.8, 1133.3),
    (379.8, 1174, 427.9, 1171), (431.2, 1175.7, 439.9, 1175.7), (453.4, 1122.4, 461.5, 1122.4),
    (543.2, 1136.2, 581.7, 1137.5), (607, 1134.5, 629.7, 1134.5), (629.7, 1137, 639.3, 1137),
    (496.6, 1142.3, 525.4, 1142.3), (482.2, 1158.2, 489, 1163.1), (525.4, 1156.2, 535, 1156.2),
    (588, 1147.2, 593.7, 1147.2), (585, 1157, 590, 1158.2), (651.3, 1140.6, 674.4, 1140.6),
    (653.7, 1144, 654, 1144), (658.5, 1159.4, 674.4, 1159.4),
    (402.4, 1210.4, 413.5, 1208), (427, 1219, 449.5, 1221.9), (461.5, 1272.5, 473.5, 1276.2),
    (415.9, 1287.1, 416.2, 1287.1), (453.4, 1295.6, 460.1, 1295.6), (375, 1308.5, 427.9, 1311.5),
    (367.8, 1336.3, 372.6, 1336.3), (373.6, 1357.7, 374, 1357.7),
    (0.3, 1277.4, 21.9, 1276.2), (35.4, 1268.4, 44.5, 1268.4), (78.6, 1269.4, 91.6, 1269.4),
    (107.4, 1265.7, 136.2, 1268.1), (24.3, 1315.6, 35.4, 1315.6), (45.9, 1314.6, 50.7, 1314.6),
    (146.8, 1316.8, 160.3, 1316.8), (166, 1327.3, 170.8, 1327.3), (181.4, 1339.4, 198.7, 1341.1),
    (208.3, 1319.5, 227.5, 1318.8), (240.5, 1329.7, 240.8, 1329.7), (246.8, 1328.5, 253.5, 1328.5),
    (262.1, 1343.8, 310.2, 1341.4), (312.6, 1318.8, 335.2, 1317.5), (508.1, 1328, 526.4, 1330.9),
    (524, 1320.7, 536, 1323.6), (586.5, 1320, 598.5, 1320), (588, 1339.4, 600.9, 1339.4),
    (543.2, 1352.8, 562.4, 1350.4), (560, 1348.7, 581.7, 1350.9), (607, 1355.3, 629.7, 1353.6),
    (629.7, 1347.5, 639.3, 1347.5), (641.7, 1332.9, 658.5, 1334.6),
    (24.3, 1372.8, 37.3, 1370.3), (43.5, 1447.7, 49.8, 1447.7), (60, 1441, 66.6, 1441.6),
    (114.1, 1440.4, 119.4, 1440.4), (168.4, 1399.5, 179.5, 1399.5), (182.9, 1400.3, 219.9, 1399),
    (219.9, 1394.7, 228.5, 1394.7), (280.4, 1405.1, 310.2, 1406.8), (312.6, 1394.2, 336.6, 1398.6),
    (342.8, 1393, 357.3, 1393), (365.4, 1410, 370.2, 1410), (274.1, 1450.9, 282.3, 1450.9),
    (347.7, 1466, 363, 1464.7), (490.4, 1416.1, 525.4, 1414.9), (525.4, 1426.3, 535, 1426.3),
    (490.4, 1457, 495.2, 1457), (524, 1462.8, 535, 1462.8), (583, 1418, 600.9, 1419.7),
    (583, 1461.8, 604.2, 1461.1), (641.7, 1408.3, 658.5, 1408.3), (658.5, 1422.2, 674.4, 1422.2),
    (669, 1458.7, 674.4, 1458.7),
]
D_BLUE = [
    (7.5, 948.9), (114.6, 949), (452.9, 980.5), (388, 1017), (430, 1020.3), (641.7, 1096.1),
    (12, 1103.4), (105, 1104.8), (112, 1105.5), (86.8, 1138.7), (32.5, 1166.7), (155, 1166),
    (172, 1153.3), (190, 1148), (218, 1163.7), (225, 1163.7), (250, 1151), (295, 1148.4),
    (364, 1145.5), (379.8, 1133.3), (398, 1172.8), (552, 1137), (565, 1137), (496.6, 1142.3),
    (503, 1142.3), (588, 1147.2), (665, 1140.6),
    (21.9, 1276.2), (88, 1269.4), (198.7, 1341.1), (215, 1319.3), (250, 1328.5), (285, 1342.6),
    (308, 1341.5), (528, 1280.6), (592, 1339.4), (548, 1352.2), (627, 1353.8),
    (37.3, 1369.5), (64, 1441.3), (184, 1400.3), (290, 1405.5), (357.3, 1393), (494, 1416),
    (497, 1416), (535, 1462.5), (600.9, 1419.7), (590, 1461.6), (600, 1461.2), (658.5, 1422.2),
]
D_GREY = [
    (112, 942), (439, 980.5), (600.9, 1029.2), (605, 1030), (166, 1153.3), (198.7, 1148),
    (206, 1163.7), (240, 1152), (318, 1164.2), (390, 1173.3), (607, 1134.5), (629.7, 1137),
    (427, 1219), (473.5, 1276.2), (375, 1308.5), (107.4, 1265.7), (113.2, 1270.6), (524, 1280.6),
    (53.1, 1440.4), (57, 1440.5), (186, 1402), (208, 1400), (212, 1400), (219.9, 1396),
    (282.3, 1450.9), (641.7, 1407),
]

# ---------------------------------------------------------------- styling / layout
REF_W, REF_H = 1546.0, 1568.0
BOXES = {"a": (64, 740), "b": (864, 1540), "c": (64, 740), "d": (864, 1540)}
LETTER_POS = {"a": (13.5, 16.5), "b": (813, 16.5), "c": (14.5, 877), "d": (813, 877)}
BLOCK_COLORS = {"E": "#FBD4DE", "A": "#E2F4CF", "B": "#C8E6F6", "C": "#ECDAF9", "D": "#FBE3CA"}
TOP_COLORS = {"E": "#EE6A85", "A": "#3C9E2D", "B": "#2594D6", "C": "#8C22CE", "D": "#E58D20"}
RED, BLUE, GREY = "#D42249", "#1C22D2", "#8A8A8A"
LABEL_GREY = "#6E6E6E"

avail = {f.name for f in fm.fontManager.ttflist}
SANS = "Liberation Sans" if "Liberation Sans" in avail else "DejaVu Sans"
WIDE = "DejaVu Sans"

fig = plt.figure(figsize=(21.14, 21.48), dpi=100)

PANELS = {
    "a": (A_NAME, A_YLIM, A_ROWS, A_TICKS, A_TICKLABELS, A_BLOCKS, A_LABELS, A_SEGS, A_BLUE, A_GREY,
          A_RANGE_X, A_CHROM_X, A_SPECIES_X, True, (21.5, 44.5, 63), "solid"),
    "b": (B_NAME, B_YLIM, B_ROWS, B_TICKS, B_TICKLABELS, B_BLOCKS, B_LABELS, B_SEGS, B_BLUE, B_GREY,
          B_RANGE_X, B_CHROM_X, B_SPECIES_X, True, (21.5, 44.5, 64), "dots"),
    "c": (C_NAME, C_YLIM, C_ROWS, C_TICKS, C_TICKLABELS, C_BLOCKS, C_LABELS, C_SEGS, C_BLUE, C_GREY,
          C_RANGE_X, C_CHROM_X, C_SPECIES_X, False, (21.5, 47, 73.5), "solid"),
    "d": (D_NAME, D_YLIM, D_ROWS, D_TICKS, D_TICKLABELS, D_BLOCKS, D_LABELS, D_SEGS, D_BLUE, D_GREY,
          D_RANGE_X, D_CHROM_X, D_SPECIES_X, False, (21.5, 47, 73.5), "solid"),
}


def colored_label(ax, x, parts, size, dy_pts):
    r = fig.canvas.get_renderer()
    widths = []
    for s, g in parts:
        t = ax.text(0, 0, s, fontsize=size, family=SANS)
        widths.append(t.get_window_extent(renderer=r).width)
        t.remove()
    total = sum(widths)
    base = mtransforms.blended_transform_factory(ax.transData, ax.transAxes)
    cur = -total / 2.0
    for (s, g), w in zip(parts, widths):
        tr = mtransforms.offset_copy(base, fig=fig, x=cur * 72.0 / fig.dpi, y=dy_pts, units="points")
        ax.text(x, 1.0, s, transform=tr, ha="left", va="center", color=TOP_COLORS[g],
                fontsize=size, family=SANS)
        cur += w


for key, P in PANELS.items():
    (name, ylim, rows, ticks, ticklabels, blocks, labels, segs, blue, grey,
     range_x, chrom_x, species_x, top, offs, segstyle) = P
    left, right = BOXES[key]
    bottom_y, top_y = ylim
    ax = fig.add_axes([left / REF_W, 1 - bottom_y / REF_H, (right - left) / REF_W, (bottom_y - top_y) / REF_H])
    ax.set_xlim(*XLIM)
    ax.set_ylim(*ylim)
    for x0, x1, y0, y1, g in blocks:
        ax.add_patch(Rectangle((x0, y0), x1 - x0, y1 - y0, facecolor=BLOCK_COLORS[g],
                               edgecolor="none", zorder=0.5))
    for y in rows:
        ax.axhline(y, color="#262626", lw=1.1, zorder=1.5)
    for x in CHROM_SOLID:
        ax.axvline(x, color="#3c3c3c", lw=0.9, zorder=1.5)
    for x in CHROM_DASHED:
        ax.axvline(x, color="#555555", lw=1.3, dashes=(7, 6), zorder=1.5)
    ls = (0, (0.01, 0.8)) if segstyle == "dots" else "solid"
    lc = LineCollection([[(s[0], s[1]), (s[2], s[3])] for s in segs], colors=RED,
                        linewidths=4.8, capstyle="round", linestyles=ls, zorder=2)
    ax.add_collection(lc)
    ax.scatter([p[0] for p in grey], [p[1] for p in grey], s=22, color=GREY, linewidths=0, zorder=3)
    ax.scatter([p[0] for p in blue], [p[1] for p in blue], s=22, color=BLUE, linewidths=0, zorder=3.2)
    for t, x, y in labels:
        ax.text(x, y, t, ha="center", va="center", color=LABEL_GREY, fontsize=17.5,
                family=SANS, zorder=4)
    ax.set_xticks([])
    ax.set_yticks(ticks)
    ax.set_yticklabels(ticklabels, family=SANS, fontsize=18.5)
    ax.tick_params(axis="y", length=0, pad=10)
    for sp in ax.spines.values():
        sp.set_linewidth(1.7)
        sp.set_color("#111111")
        sp.set_zorder(5)
    for txt, x in zip(BOTTOM_RANGE, range_x):
        ax.annotate(txt, xy=(x, 0), xycoords=("data", "axes fraction"), xytext=(0, -offs[0]),
                    textcoords="offset points", ha="center", va="center", fontsize=18.5, family=SANS)
    for txt, x in zip(BOTTOM_CHROM, chrom_x):
        ax.annotate(txt, xy=(x, 0), xycoords=("data", "axes fraction"), xytext=(0, -offs[1]),
                    textcoords="offset points", ha="center", va="center", fontsize=18.5, family=SANS)
    ax.annotate(XSPECIES, xy=(species_x, 0), xycoords=("data", "axes fraction"), xytext=(0, -offs[2]),
                textcoords="offset points", ha="center", va="center", fontsize=20,
                family=SANS, style="italic")
    ax.text(-0.078, 0.5, name, transform=ax.transAxes, rotation=90, ha="center", va="center",
            fontsize=20, family=WIDE, style="italic")
    if top:
        for x, parts in zip(TOP_LABEL_X, TOP_LABEL_PARTS):
            colored_label(ax, x, parts, 19.5, 15.8)
    lx, ly = LETTER_POS[key]
    fig.text(lx / REF_W, 1 - ly / REF_H, key, ha="center", va="center", fontsize=27,
             fontweight="bold", family=SANS)

fig.savefig("out.png", dpi=100)
